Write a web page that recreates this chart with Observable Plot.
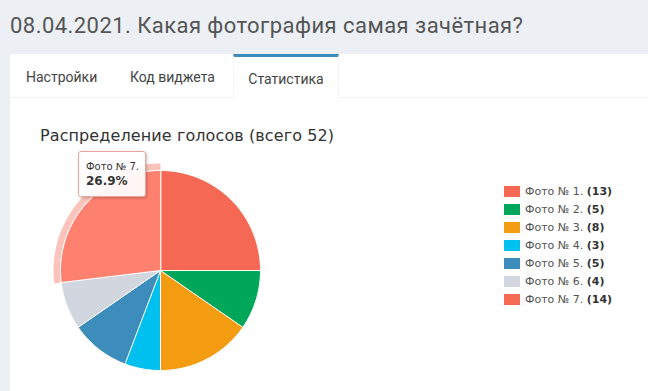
<!DOCTYPE html>
<html>
<head>
<meta charset="utf-8">
<script src="https://cdn.jsdelivr.net/npm/d3@7"></script>
<script src="https://cdn.jsdelivr.net/npm/@observablehq/plot@0.6"></script>
<style>
  html, body { margin: 0; padding: 0; }
  body { width: 648px; height: 391px; background: #ecf0f5; overflow: hidden; position: relative; font-family: Roboto, sans-serif; }
  #header { position: absolute; left: 10px; top: 13px; font-size: 22px; letter-spacing: 0.45px; color: #555; white-space: nowrap; }
  #panel { position: absolute; left: 10px; top: 54px; width: 660px; height: 360px; background: #fff; border-radius: 3px; box-shadow: 0 1px 1px rgba(0,0,0,0.1); }
  #tabline { position: absolute; left: 10px; top: 97px; width: 660px; height: 1px; background: #f1f1f1; }
  .tab { position: absolute; top: 55px; height: 43px; line-height: 45px; font-size: 14px; color: #444; white-space: nowrap; }
  #tab3 { left: 233px; width: 104px; top: 54px; height: 41px; border-top: 3px solid #3c8dbc; border-left: 1px solid #f4f4f4; border-right: 1px solid #f4f4f4; background: #fff; text-align: center; line-height: 45px; }
  #ctitle { position: absolute; left: 40px; top: 126px; font-family: "DejaVu Sans", sans-serif; font-size: 16px; letter-spacing: 0.1px; color: #333; white-space: nowrap; }
  #pie { position: absolute; left: 40px; top: 150px; }
  #legend { position: absolute; left: 504px; top: 186px; font-family: "DejaVu Sans", sans-serif; font-size: 11px; color: #545454; }
  .row { height: 18px; position: relative; white-space: nowrap; }
  .sw { position: absolute; left: 0; top: 0; width: 16px; height: 11px; }
  .lt { position: absolute; left: 21px; top: -1px; line-height: 13px; }
  .lt b { color: #333; }
  #tip { position: absolute; left: 78px; top: 151px; width: 66px; height: 44px; border: 1px solid #eba79d; border-radius: 3px; background: rgba(255,255,255,0.92); box-shadow: 1px 1px 3px rgba(0,0,0,0.25); font-family: "DejaVu Sans", sans-serif; color: #333; }
  #tip .t1 { position: absolute; left: 7px; top: 9px; font-size: 10px; }
  #tip .t2 { position: absolute; left: 7px; top: 22px; font-size: 12px; font-weight: bold; }
</style>
</head>
<body>
<div id="header">08.04.2021. Какая фотография самая зачётная?</div>
<div id="panel"></div>
<div id="tabline"></div>
<div class="tab" style="left:26px">Настройки</div>
<div class="tab" style="left:130px">Код виджета</div>
<div class="tab" id="tab3">Статистика</div>
<div id="ctitle"></div>
<div id="pie"></div>
<div id="legend"></div>
<div id="tip"><div class="t1"></div><div class="t2"></div></div>
<script>
const labels = ["Фото № 1.", "Фото № 2.", "Фото № 3.", "Фото № 4.", "Фото № 5.", "Фото № 6.", "Фото № 7."];
const votes = [13, 5, 8, 3, 5, 4, 14];
const colors = ["#f56954", "#00a65a", "#f39c12", "#00c0ef", "#3c8dbc", "#d2d6de", "#f56954"];
const hoverIndex = 6;
const hoverColor = "#fe8170";
const chartTitle = "Распределение голосов (всего 52)";

const total = d3.sum(votes);
document.getElementById("ctitle").textContent = chartTitle;

const rows = labels.map((label, i) => ({label, votes: votes[i], color: i === hoverIndex ? hoverColor : colors[i], i}));
const arcs = d3.pie().sort(null).value(d => d.votes)(rows);

const R = 100, HALO = 107;
const slicePts = [];
arcs.forEach(a => {
  slicePts.push({id: a.data.i, x: 0, y: 0, fill: a.data.color});
  const n = Math.max(4, Math.ceil((a.endAngle - a.startAngle) * 60));
  for (let k = 0; k <= n; k++) {
    const t = a.startAngle + (a.endAngle - a.startAngle) * k / n;
    slicePts.push({id: a.data.i, x: R * Math.sin(t), y: R * Math.cos(t), fill: a.data.color});
  }
});
const ha = arcs[hoverIndex];
const haloPts = [];
{
  const n = Math.ceil((ha.endAngle - ha.startAngle) * 60);
  for (let k = 0; k <= n; k++) {
    const t = ha.startAngle + (ha.endAngle - ha.startAngle) * k / n;
    haloPts.push({x: HALO * Math.sin(t), y: HALO * Math.cos(t)});
  }
  for (let k = n; k >= 0; k--) {
    const t = ha.startAngle + (ha.endAngle - ha.startAngle) * k / n;
    haloPts.push({x: (R + 0.5) * Math.sin(t), y: (R + 0.5) * Math.cos(t)});
  }
}

const plot = Plot.plot({
  width: 240, height: 240, margin: 0,
  x: {domain: [-120, 120], axis: null},
  y: {domain: [-120, 120], axis: null},
  color: {type: "identity"},
  marks: [
    Plot.line(haloPts, {x: "x", y: "y", fill: colors[hoverIndex], fillOpacity: 0.4, stroke: "none", curve: "linear-closed"}),
    Plot.line(slicePts, {x: "x", y: "y", z: "id", fill: "fill", stroke: "#fff", strokeWidth: 1, curve: "linear-closed"})
  ]
});
document.getElementById("pie").appendChild(plot);

const legend = document.getElementById("legend");
rows.forEach((r, i) => {
  const row = document.createElement("div");
  row.className = "row";
  row.innerHTML = `<div class="sw" style="background:${colors[i]}"></div><div class="lt">${r.label} <b>(${r.votes})</b></div>`;
  legend.appendChild(row);
});

document.querySelector("#tip .t1").textContent = labels[hoverIndex];
document.querySelector("#tip .t2").textContent = (votes[hoverIndex] / total * 100).toFixed(1) + "%";
</script>
</body>
</html>
